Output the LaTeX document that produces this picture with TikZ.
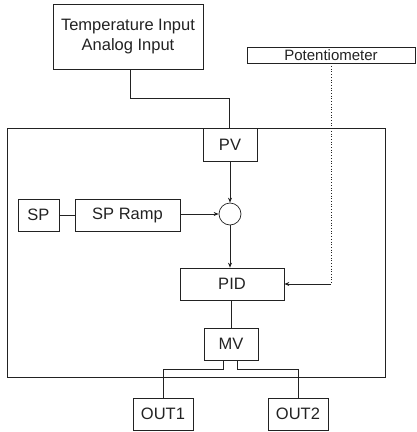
\documentclass[tikz,border=0pt]{standalone}
\usepackage{fontspec}
\setmainfont{Liberation Sans}
\usetikzlibrary{arrows.meta}
\definecolor{ink}{HTML}{222222}
\begin{document}
\begin{tikzpicture}[x=1pt,y=-1pt, color=ink,
  box/.style={draw, line width=0.7pt, inner sep=0pt, font=\fontsize{16.5}{20}\selectfont, align=center},
  wire/.style={line width=0.7pt},
  arr/.style={line width=0.7pt, -{Stealth[length=5pt,width=4pt]}}]
\useasboundingbox (0,0) rectangle (416,432);
\node[box, minimum width=150pt, minimum height=65pt] (temp) at (128,36.5) {Temperature Input\\Analog Input};
\node[box, minimum width=168pt, minimum height=16pt, font=\fontsize{15}{18}\selectfont] (pot) at (331,55) {Potentiometer};
\node[draw, line width=0.7pt, minimum width=378pt, minimum height=249pt, inner sep=0pt] (frame) at (196,252.5) {};
\node[box, minimum width=54pt, minimum height=33pt] (pv) at (230,144.5) {PV};
\node[box, minimum width=41pt, minimum height=32pt] (sp) at (38.5,215) {SP};
\node[box, minimum width=105pt, minimum height=32pt] (ramp) at (127.5,215) {SP Ramp};
\node[draw, line width=0.7pt, circle, minimum size=22pt, inner sep=0pt] (sum) at (230,214) {};
\node[box, minimum width=104pt, minimum height=32pt] (pid) at (232,284) {PID};
\node[box, minimum width=54pt, minimum height=32pt] (mv) at (231,344) {MV};
\node[box, minimum width=60pt, minimum height=32pt] (out1) at (163,414) {OUT1};
\node[box, minimum width=60pt, minimum height=32pt] (out2) at (298,414) {OUT2};
\draw[wire] ([xshift=2pt]temp.south) -- ++(0,29) -| ([xshift=-1pt]pv.north);
\draw[arr] (pv.south) -- (sum.north);
\draw[wire] (sp.east) -- (ramp.west);
\draw[arr] (ramp.east |- sum.west) -- (sum.west);
\draw[arr] (sum.south) -- (pid.north -| sum.south);
\coordinate (corner) at (pot.south |- pid.east);
\draw[wire, dotted] (pot.south) -- (corner);
\draw[arr] (corner) -- (pid.east);
\draw[wire] (pid.south -| mv.north) -- (mv.north);
\draw[wire] ([xshift=-8pt]mv.south) -- ++(0,9) -| (out1.north);
\draw[wire] ([xshift=6pt]mv.south) -- ++(0,9) -| (out2.north);
\end{tikzpicture}
\end{document}
